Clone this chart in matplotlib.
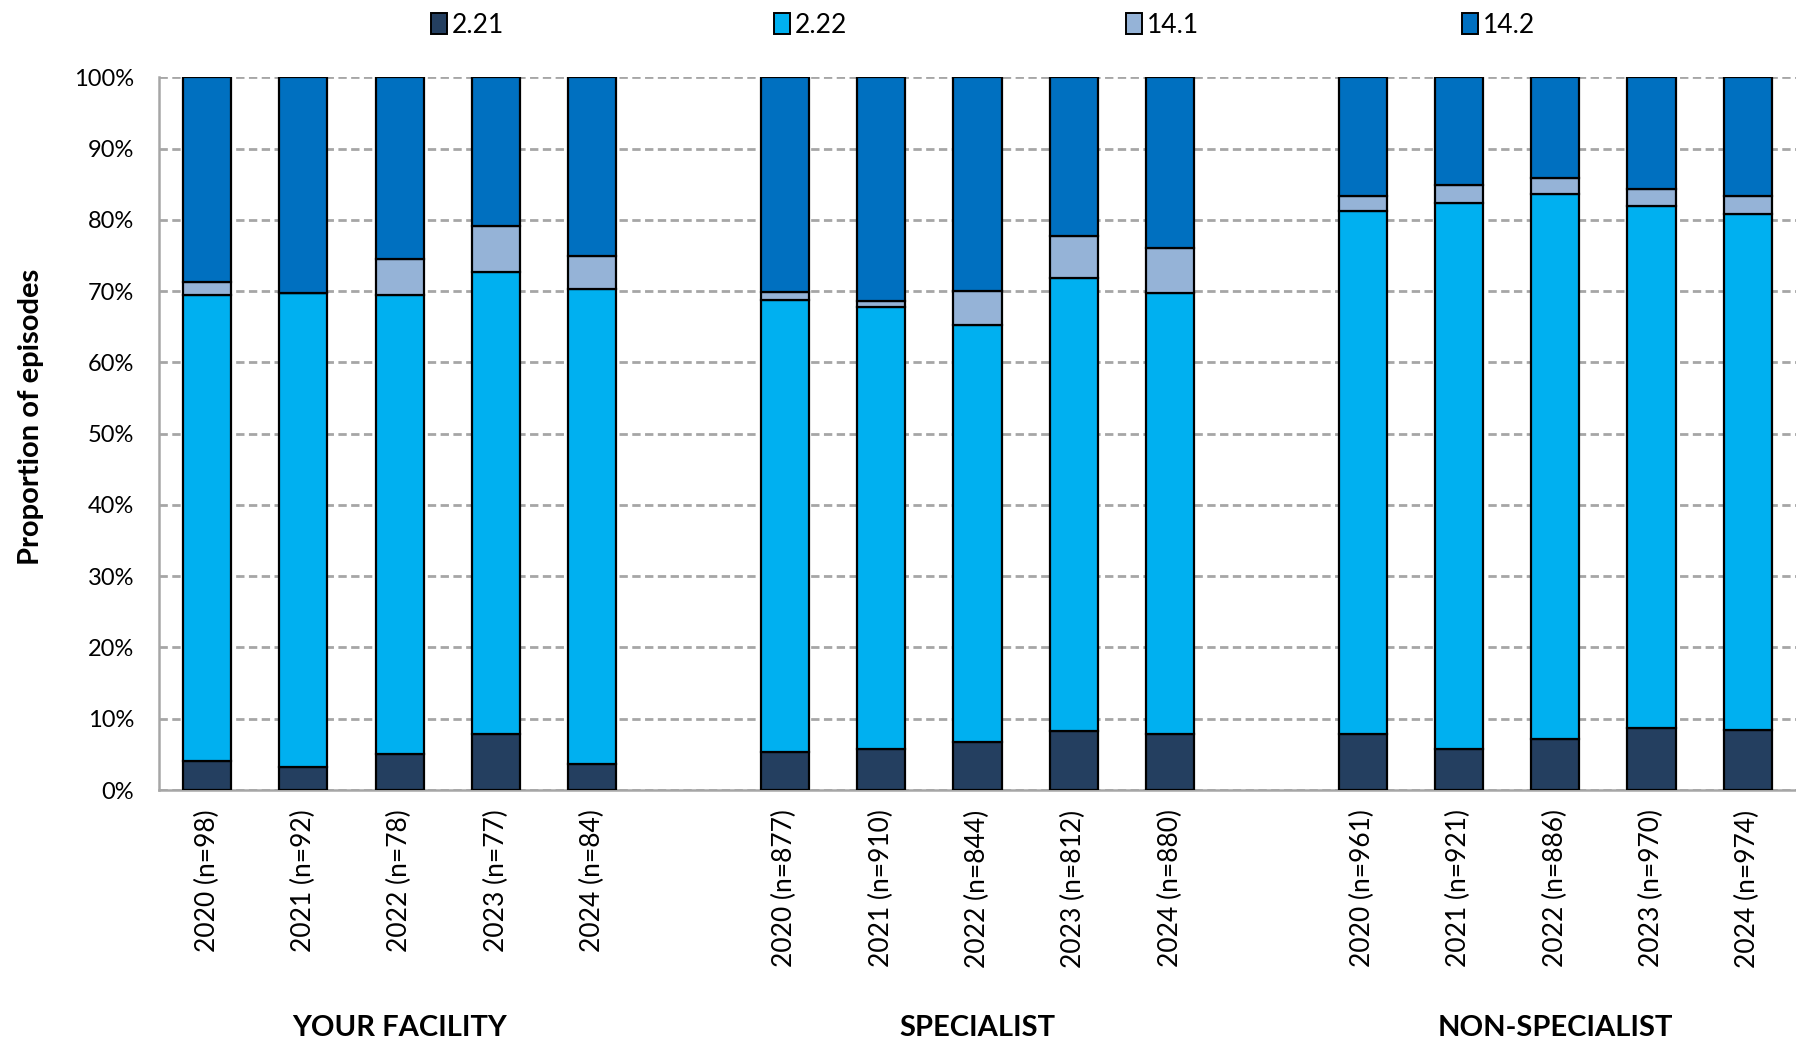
import matplotlib
matplotlib.use("Agg")
import matplotlib.pyplot as plt
from matplotlib.patches import Patch
import numpy as np

groups = ["YOUR FACILITY", "SPECIALIST", "NON-SPECIALIST"]
years = ["2020", "2021", "2022", "2023", "2024"]
n_values = [
    [98, 92, 78, 77, 84],
    [877, 910, 844, 812, 880],
    [961, 921, 886, 970, 974],
]
series_names = ["2.21", "2.22", "14.1", "14.2"]

# percentages per group (5 years each)
s221 = [
    [4.1, 3.3, 5.0, 7.8, 3.6],
    [5.3, 5.8, 6.7, 8.3, 7.8],
    [7.8, 5.8, 7.2, 8.7, 8.4],
]
s222 = [
    [65.3, 66.4, 64.4, 64.9, 66.7],
    [63.5, 62.0, 58.6, 63.6, 61.9],
    [73.5, 76.6, 76.4, 73.2, 72.4],
]
s141 = [
    [1.9, 0.0, 5.1, 6.4, 4.7],
    [1.1, 0.8, 4.7, 5.9, 6.4],
    [2.0, 2.5, 2.3, 2.5, 2.5],
]
s142 = [
    [28.7, 30.3, 25.5, 20.9, 25.0],
    [30.1, 31.4, 30.0, 22.2, 23.9],
    [16.7, 15.1, 14.1, 15.6, 16.7],
]

colors = ["#243F60", "#00B0F0", "#95B3D7", "#0070C0"]

plt.rcParams['font.family'] = ['Lato', 'DejaVu Sans']

fig = plt.figure(figsize=(17.96, 10.45), dpi=100)
ax = fig.add_axes([0.0885, 0.244, 0.9115, 0.682])

positions = []
labels = []
for g in range(len(groups)):
    for i in range(len(years)):
        positions.append(g * 6 + i)
        labels.append(f"{years[i]} (n={n_values[g][i]})")
positions = np.array(positions)

data = [np.array(s).ravel() for s in (s221, s222, s141, s142)]
bottom = np.zeros(len(positions))
for vals, col, name in zip(data, colors, series_names):
    ax.bar(positions, vals, 0.5, bottom=bottom, color=col,
           edgecolor="black", linewidth=1.6, label=name, zorder=3)
    bottom += vals

ax.set_xlim(-0.5, 16.5)
ax.set_ylim(0, 100)
ax.set_yticks(np.arange(0, 101, 10))
ax.set_yticklabels([f"{v}%" for v in range(0, 101, 10)], fontsize=17)
ax.set_xticks(positions)
ax.set_xticklabels(labels, rotation=90, fontsize=19)
ax.tick_params(axis='both', length=0)
ax.tick_params(axis='x', pad=14)
ax.tick_params(axis='y', pad=18)

ax.yaxis.grid(True, linestyle=(0, (3, 1.6)), color="#A6A6A6", linewidth=2.0, zorder=0)
ax.set_axisbelow(True)
for sp in ["top", "right"]:
    ax.spines[sp].set_visible(False)
ax.spines["left"].set_color("#A6A6A6")
ax.spines["bottom"].set_color("#A6A6A6")
ax.spines["left"].set_linewidth(1.8)
ax.spines["bottom"].set_linewidth(1.8)

ax.set_ylabel("Proportion of episodes", fontsize=21, fontweight="bold")
ax.yaxis.set_label_coords(-0.0705, 0.523)

for g, name in enumerate(groups):
    xc = g * 6 + 2
    xf = ax.transData.transform((xc, 0))[0]
    xfig = fig.transFigure.inverted().transform((xf, 0))[0]
    fig.text(xfig, 0.016, name, ha="center", va="center", fontsize=21, fontweight="bold")

legend_x = [0.240, 0.431, 0.627, 0.814]
for c, name, lx in zip(colors, series_names, legend_x):
    h = Patch(facecolor=c, edgecolor="black", linewidth=1.4)
    fig.legend([h], [name], loc="center left", bbox_to_anchor=(lx, 0.976),
               frameon=False, fontsize=19, handlelength=0.6, handleheight=0.9,
               handletextpad=0.2, borderaxespad=0, borderpad=0)

fig.savefig("out.png", dpi=100)
